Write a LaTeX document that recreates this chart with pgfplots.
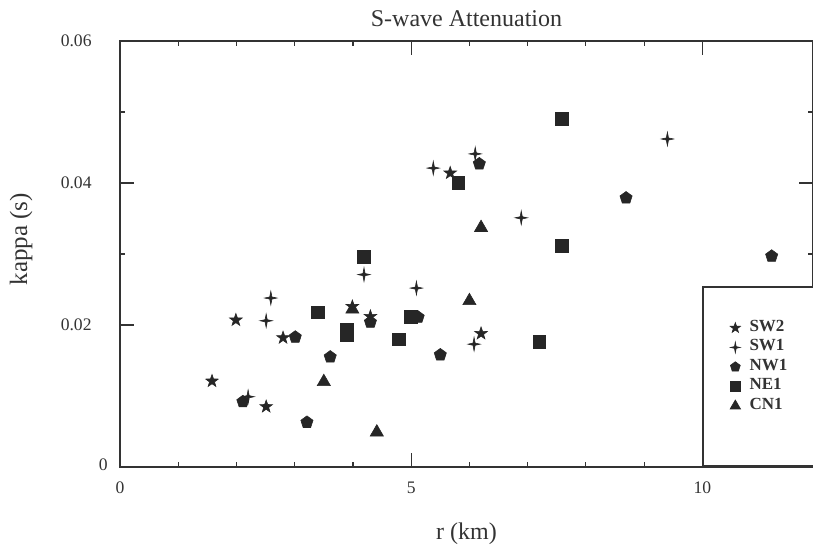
\documentclass[border=0pt]{standalone}
\usepackage{fontspec}
\setmainfont{Liberation Serif}
\usepackage{pgfplots}
\pgfplotsset{compat=1.18}
\definecolor{mk}{HTML}{262626}
\definecolor{ax}{HTML}{333333}
\pgfdeclareplotmark{fivestar}{%
  \pgfpathmoveto{\pgfqpoint{0pt}{\pgfplotmarksize}}%
  \pgfpathlineto{\pgfqpoint{-0.235\pgfplotmarksize}{0.324\pgfplotmarksize}}%
  \pgfpathlineto{\pgfqpoint{-0.951\pgfplotmarksize}{0.309\pgfplotmarksize}}%
  \pgfpathlineto{\pgfqpoint{-0.380\pgfplotmarksize}{-0.124\pgfplotmarksize}}%
  \pgfpathlineto{\pgfqpoint{-0.588\pgfplotmarksize}{-0.809\pgfplotmarksize}}%
  \pgfpathlineto{\pgfqpoint{0pt}{-0.4\pgfplotmarksize}}%
  \pgfpathlineto{\pgfqpoint{0.588\pgfplotmarksize}{-0.809\pgfplotmarksize}}%
  \pgfpathlineto{\pgfqpoint{0.380\pgfplotmarksize}{-0.124\pgfplotmarksize}}%
  \pgfpathlineto{\pgfqpoint{0.951\pgfplotmarksize}{0.309\pgfplotmarksize}}%
  \pgfpathlineto{\pgfqpoint{0.235\pgfplotmarksize}{0.324\pgfplotmarksize}}%
  \pgfpathclose
  \pgfusepathqfillstroke}
\pgfdeclareplotmark{fourstar}{%
  \pgfpathmoveto{\pgfqpoint{0pt}{\pgfplotmarksize}}%
  \pgfpathlineto{\pgfqpoint{0.16\pgfplotmarksize}{0.16\pgfplotmarksize}}%
  \pgfpathlineto{\pgfqpoint{0.9\pgfplotmarksize}{0pt}}%
  \pgfpathlineto{\pgfqpoint{0.16\pgfplotmarksize}{-0.16\pgfplotmarksize}}%
  \pgfpathlineto{\pgfqpoint{0pt}{-\pgfplotmarksize}}%
  \pgfpathlineto{\pgfqpoint{-0.16\pgfplotmarksize}{-0.16\pgfplotmarksize}}%
  \pgfpathlineto{\pgfqpoint{-0.9\pgfplotmarksize}{0pt}}%
  \pgfpathlineto{\pgfqpoint{-0.16\pgfplotmarksize}{0.16\pgfplotmarksize}}%
  \pgfpathclose
  \pgfusepathqfillstroke}
\begin{document}
\begin{tikzpicture}
\begin{axis}[
  scale only axis,
  width=346.5pt, height=213pt,
  xmin=0, xmax=11.9, ymin=0, ymax=0.06,
  axis line style={ax, line width=0.8pt},
  every tick/.style={ax, line width=0.6pt},
  tick align=inside,
  major tick length=7pt, minor tick length=2.5pt,
  xtick={0,5,10}, minor x tick num=4,
  ytick={0.02,0.04,0.06}, yticklabels={0.02,0.04,0.06},
  minor y tick num=1,
  extra y ticks={0}, extra y tick labels={0},
  extra y tick style={yticklabel style={xshift=8pt, yshift=1pt}},
  scaled y ticks=false,
  /pgf/number format/assume math mode=true,
  tick label style={font=\fontsize{8.8}{10}\selectfont, text=ax},
  xticklabel style={anchor=base, inner sep=0pt, yshift=-13pt},
  yticklabel style={anchor=east, inner sep=0pt, xshift=-14pt},
  every axis title shift=0pt,
  title={S-wave Attenuation},
  title style={at={(axis description cs:0.5,1.0352)}, anchor=base, font=\fontsize{12}{14}\selectfont, text=ax, inner sep=0pt},
  xlabel={r (km)},
  xlabel style={at={(axis description cs:0.5,-0.169)}, anchor=base, font=\fontsize{12}{14}\selectfont, text=ax, inner sep=0pt},
  ylabel={kappa (s)},
  ylabel style={at={(axis description cs:-0.134,0.535)}, anchor=base, rotate=0, font=\fontsize{12.5}{14}\selectfont, text=ax, inner sep=0pt},
  legend style={at={(axis description cs:0.8403,0)}, anchor=south west,
    draw=ax, line width=0.8pt, fill=white,
    inner xsep=13.5pt, inner ysep=15.5pt,
    font=\bfseries\fontsize{8.5}{9}\selectfont, text=ax,
    row sep=0pt,
    nodes={inner ysep=0pt, inner xsep=0pt, text height=6.5pt, text depth=3.25pt},
    /tikz/every odd column/.append style={column sep=4.5pt},
    /tikz/every even column/.append style={text width=22pt}},
  legend cell align=left,
  legend image code/.code={\draw[#1] plot coordinates {(0pt,0pt)};},
]
\addplot[only marks, mark=fivestar, mark size=3.3pt, mk, mark options={fill=mk, draw=mk, line width=0.3pt}, legend image post style={mark size=2.7pt}] coordinates {
 (1.58,0.0121) (1.99,0.0207) (2.51,0.0085) (2.80,0.0182) (3.99,0.0226) (4.30,0.0212) (5.67,0.0414) (6.20,0.0188)};
\addlegendentry{SW2}
\addplot[only marks, mark=fourstar, mark size=3.4pt, mk, mark options={fill=mk, draw=mk, line width=0.3pt}, legend image post style={mark size=2.7pt}] coordinates {
 (2.20,0.0099) (2.59,0.0238) (2.51,0.0206) (4.19,0.0271) (5.09,0.0252) (5.38,0.0421) (6.10,0.0441) (6.08,0.0173) (6.89,0.0351) (9.40,0.0462)};
\addlegendentry{SW1}
\addplot[only marks, mark=pentagon*, mark size=3.2pt, mk, mark options={fill=mk, draw=mk, line width=0.3pt}, legend image post style={mark size=2.6pt}] coordinates {
 (2.11,0.0092) (3.01,0.0183) (3.61,0.0155) (3.21,0.0063) (4.30,0.0204) (5.12,0.0211) (5.50,0.0158) (6.17,0.0427) (8.69,0.0379) (11.19,0.0297)};
\addlegendentry{NW1}
\addplot[only marks, mark=square*, mark size=3.2pt, mk, mark options={fill=mk, draw=mk, line width=0.3pt}, legend image post style={mark size=2.5pt}] coordinates {
 (3.40,0.0218) (3.90,0.0194) (3.90,0.0186) (4.19,0.0296) (4.79,0.0180) (5.00,0.0211) (5.81,0.0400) (7.59,0.0490) (7.59,0.0311) (7.20,0.0176)};
\addlegendentry{NE1}
\addplot[only marks, mark=triangle*, mark size=3.8pt, mk, mark options={fill=mk, draw=mk, line width=0.3pt}, legend image post style={mark size=3pt}] coordinates {
 (3.50,0.0120) (4.41,0.0049) (3.99,0.0222) (6.00,0.0234) (6.20,0.0337)};
\addlegendentry{CN1}
\addlegendimage{empty legend}
\addlegendentry{}
\end{axis}
\pgfresetboundingbox
\path[use as bounding box] (-60pt,-40.5pt) rectangle (346.5pt,233.5pt);
\end{tikzpicture}
\end{document}
